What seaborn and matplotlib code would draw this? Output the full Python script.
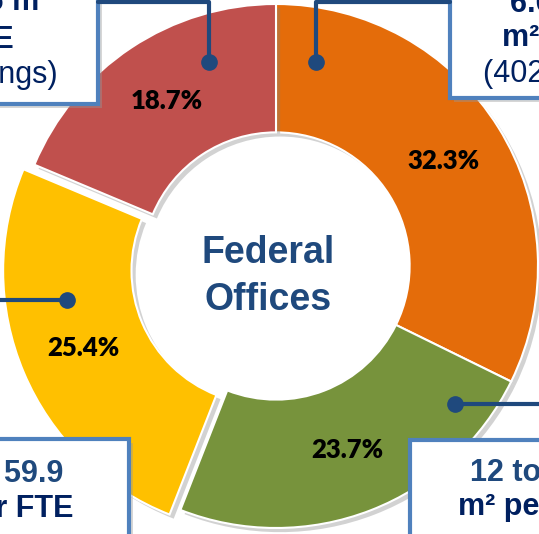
import matplotlib
matplotlib.use("Agg")
import matplotlib.pyplot as plt
import matplotlib.patheffects as pe
from matplotlib.patches import Rectangle
import seaborn as sns

# share of federal office buildings per space-per-FTE class
segments = ["6.6 to 12 m²", "12 to 18 m²", "18 to 59.9 m²", "below 6.6 m²"]
shares = [32.3, 23.7, 25.4, 18.7]
colors = ["#E46C0A", "#77933C", "#FFC000", "#C0504D"]
explode = [0, 0, 0.045, 0]

W, H = 539, 534
sns.set_theme(style="white")
plt.rcParams["font.family"] = ["Liberation Sans", "DejaVu Sans"]

fig = plt.figure(figsize=(W / 100, H / 100), dpi=100)
ax = fig.add_axes([0, 0, 1, 1])

shadow = [pe.SimplePatchShadow(offset=(3, -3), shadow_rgbFace="#808080", alpha=0.35), pe.Normal()]
wedges, texts, autotexts = ax.pie(
    shares, colors=colors, startangle=90, counterclock=False, explode=explode,
    autopct="%.1f%%", pctdistance=0.755,
    wedgeprops=dict(width=0.49, edgecolor="white", linewidth=1.5, path_effects=shadow),
    textprops=dict(fontsize=18.5, fontweight="heavy", color="black",
                   family=["Lato", "DejaVu Sans"]),
)

# centre of the ring sits at pixel (276, 266), radius 262 px
cx, cy, r = 276, 266, 262
ax.set_aspect("auto")
ax.set_xlim(-cx / r, (W - cx) / r)
ax.set_ylim(-(H - cy) / r, cy / r)
ax.axis("off")

ax.text(-0.03, -0.04, "Federal\nOffices", ha="center", va="center", fontsize=27,
        fontweight="bold", color="#1F497D", linespacing=1.4)


def fx(px):
    return px / W


def fy(py):
    return 1 - py / H


box_edge = "#4F81BD"
line_col = "#1F497D"
navy = "#002060"
blue = "#1F497D"

# callout boxes (x0, y0, x1, y1 in pixels from top left)
boxes = [(-30, -30, 98, 104), (450, -30, 580, 98), (-30, 439, 129, 580), (410, 440, 580, 580)]
for x0, y0, x1, y1 in boxes:
    fig.patches.append(Rectangle((fx(x0), fy(y1)), fx(x1) - fx(x0), fy(y0) - fy(y1),
                                 transform=fig.transFigure, facecolor="white", edgecolor=box_edge,
                                 linewidth=3, zorder=5,
                                 path_effects=[pe.SimplePatchShadow(offset=(3, -3), shadow_rgbFace="#999999", alpha=0.4), pe.Normal()]))

# leader lines with dots
leaders = [
    [(209, 62), (209, 2), (98, 2)],
    [(316, 62), (316, 2), (450, 2)],
    [(67, 300), (-5, 300)],
    [(455, 404), (545, 404)],
]
for pts in leaders:
    xs = [fx(p[0]) for p in pts]
    ys = [fy(p[1]) for p in pts]
    fig.add_artist(plt.Line2D(xs, ys, color=line_col, linewidth=3, transform=fig.transFigure, zorder=6))
    fig.add_artist(plt.Line2D([xs[0]], [ys[0]], marker="o", markersize=11, color=line_col,
                              transform=fig.transFigure, zorder=7))

bold = dict(fontsize=22, fontweight="bold", va="baseline", transform=fig.transFigure, zorder=8)
reg = dict(fontsize=22, va="baseline", transform=fig.transFigure, zorder=8, color=navy)

# top left box (right part visible)
fig.text(fx(49), fy(10), "below 6.6 m²", ha="right", color=navy, **bold)
fig.text(fx(14), fy(48), "per FTE", ha="right", color=navy, **bold)
fig.text(fx(58), fy(83), "(135 buildings)", ha="right", **reg)

# top right box (left part visible)
fig.text(fx(510), fy(12), "6.6 to 12", ha="left", color=navy, **bold)
fig.text(fx(502), fy(46), "m² per FTE", ha="left", color=navy, **bold)
fig.text(fx(483), fy(82), "(402 buildings)", ha="left", **reg)

# bottom left box
fig.text(fx(63), fy(482), "18 to 59.9", ha="right", color=blue, **bold)
fig.text(fx(74), fy(517), "m² per FTE", ha="right", color=navy, **bold)
fig.text(fx(92), fy(558), "(315 buildings)", ha="right", **reg)

# bottom right box
fig.text(fx(470), fy(481), "12 to 18", ha="left", color=blue, **bold)
fig.text(fx(458), fy(515), "m² per FTE", ha="left", color=navy, **bold)
fig.text(fx(445), fy(558), "(295 buildings)", ha="left", **reg)

fig.savefig("out.png", dpi=100)
